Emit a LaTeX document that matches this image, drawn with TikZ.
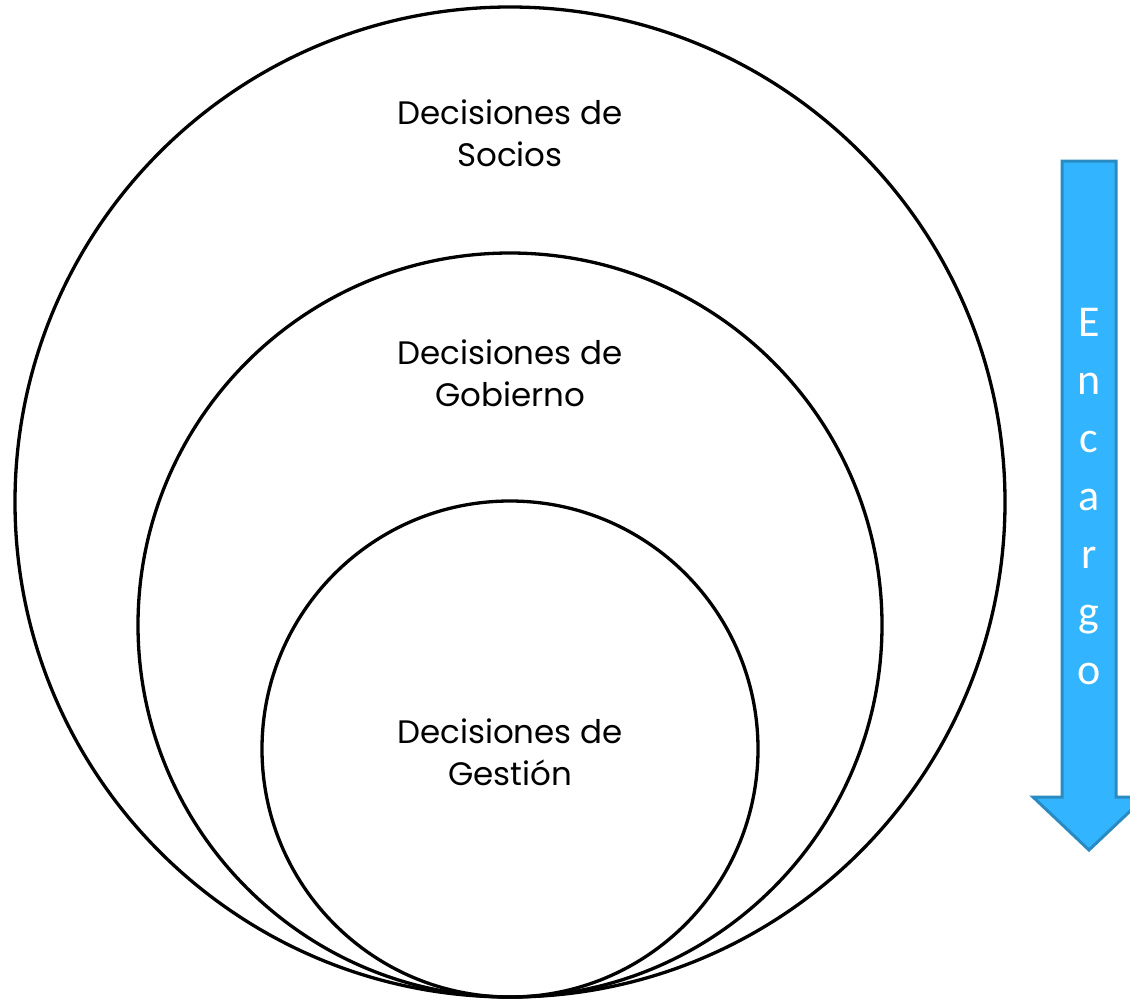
\documentclass[tikz,border=0pt]{standalone}
\usepackage{fontspec}
\setmainfont{Poppins}
\newfontfamily\arrowfont{Carlito}
\definecolor{arrowfill}{HTML}{33B4FF}
\definecolor{arrowline}{HTML}{2A8BC2}
\begin{document}
\begin{tikzpicture}[x=1pt,y=-1pt,
  ring/.style={circle, draw=black, line width=3.3pt, inner sep=0pt},
  label/.style={align=center, font=\fontsize{32.5}{42}\selectfont, text=black},
  arrowtext/.style={align=center, font=\arrowfont\fontsize{44}{58}\selectfont, text=white}]
\useasboundingbox (0,0) rectangle (1130,999);
\node[ring, minimum size=990pt] (outer) at (510,502) {};
\node[ring, minimum size=744pt] (middle) at (510,625) {};
\node[ring, minimum size=496pt] (inner) at (510,749) {};
\node[label] (socios) at (510,133) {Decisiones de\\Socios};
\node[label] (gobierno) at (510,373) {Decisiones de\\Gobierno};
\node[label] (gestion) at (510,752) {Decisiones de\\Gestión};
\draw[fill=arrowfill, draw=arrowline, line width=3pt, line join=miter]
  (1062,161) -- (1116,161) -- (1116,797) -- (1145,797) -- (1089,850)
  -- (1033,797) -- (1062,797) -- cycle;
\node[arrowtext] (encargo) at (1089,497) {E\\n\\c\\a\\r\\g\\o};
\end{tikzpicture}
\end{document}
